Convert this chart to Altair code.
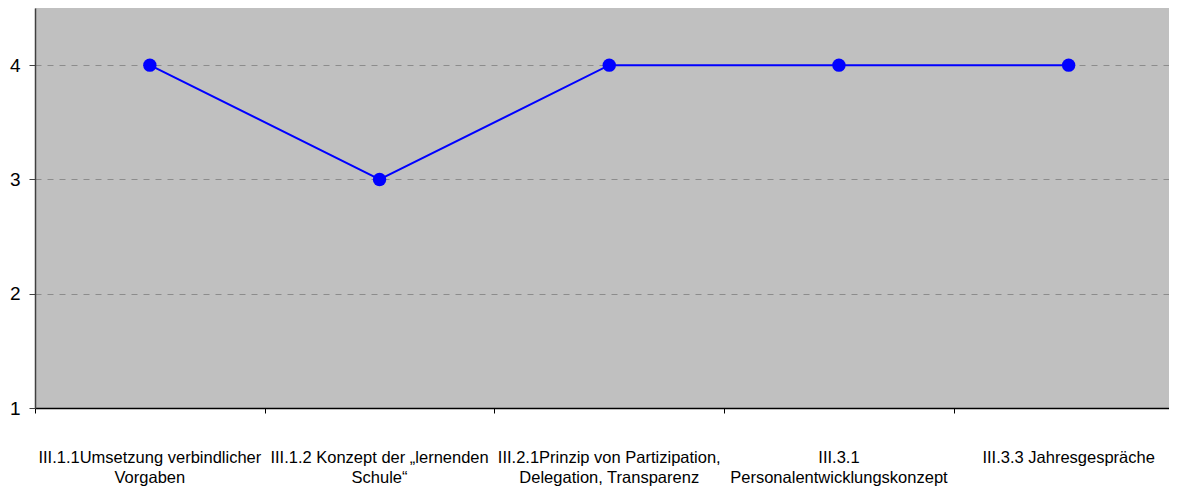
import altair as alt
import pandas as pd

categories = [
    "III.1.1Umsetzung verbindlicher\nVorgaben",
    "III.1.2 Konzept der „lernenden\nSchule“",
    "III.2.1Prinzip von Partizipation,\nDelegation, Transparenz",
    "III.3.1\nPersonalentwicklungskonzept",
    "III.3.3 Jahresgespräche",
]
values = [4, 3, 4, 4, 4]
y_ticks = [1, 2, 3, 4]

df = pd.DataFrame({"idx": list(range(len(categories))), "label": categories, "value": values})

W = 1134
H = 400
band = 229.7

xscale = alt.Scale(domain=[0, W / band], nice=False, zero=False)
yscale = alt.Scale(domain=[1, 4.5], nice=False, zero=False)

base = alt.Chart(df).transform_calculate(pos="datum.idx + 0.5")

xaxis = alt.Axis(values=[0, 1, 2, 3, 4], labels=False, title=None, grid=False,
                 tickSize=5, tickColor="#000000", domainColor="#000000", domainWidth=1.5)
yaxis = alt.Axis(values=y_ticks, format="d", title=None, grid=True, gridDash=[6, 6],
                 gridColor="#8c8c8c", gridWidth=1, labelFontSize=19, labelFont="Liberation Sans",
                 labelColor="#000000", labelPadding=9, tickSize=6, tickColor="#404040",
                 domainColor="#404040", domainWidth=1.5)

line = base.mark_line(color="#0000FF", strokeWidth=2).encode(
    x=alt.X("pos:Q", scale=xscale, axis=xaxis),
    y=alt.Y("value:Q", scale=yscale, axis=yaxis),
)
points = base.mark_point(filled=True, color="#0000FF", size=180, opacity=1).encode(
    x=alt.X("pos:Q", scale=xscale),
    y=alt.Y("value:Q", scale=yscale),
)
labels = base.mark_text(fontSize=16.5, font="Liberation Sans", lineBreak="\n", lineHeight=20,
                        baseline="alphabetic", align="center", color="#000000").encode(
    x=alt.X("pos:Q", scale=xscale),
    y=alt.value(455),
    text="label:N",
)

chart = alt.layer(line, points, labels).properties(
    width=W, height=H,
    autosize=alt.AutoSizeParams(type="none"),
    padding={"left": 27, "top": 0, "right": 0, "bottom": 78},
).configure_view(fill="#C0C0C0", strokeWidth=0)

chart.save("out.html", embed_options={"renderer": "svg", "actions": False})
